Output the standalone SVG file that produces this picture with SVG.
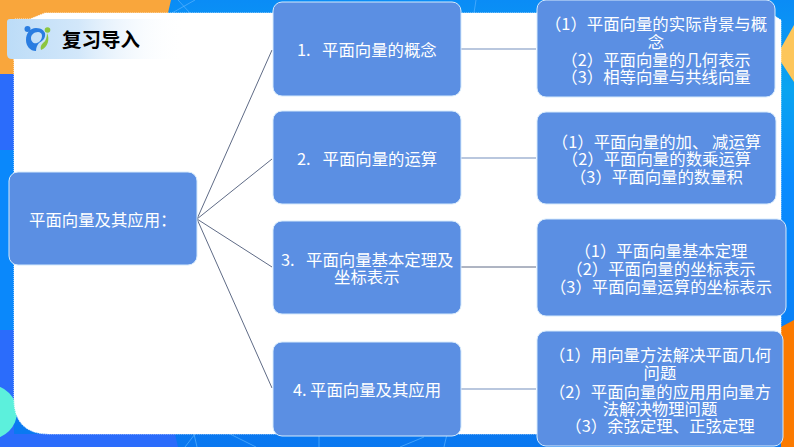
<svg xmlns="http://www.w3.org/2000/svg" width="794" height="447" viewBox="0 0 794 447">
<style>
.n{fill:#5b8fe3;stroke:#d6eafc;stroke-width:1}
.t{font-family:"Noto Sans CJK SC","Liberation Sans",sans-serif;font-size:16.4px;fill:#fff}
.m{text-anchor:middle}
.l1{stroke:#5f6b86;stroke-width:1;fill:none}
.l2{stroke:#a3b5d3;stroke-width:1.3;fill:none}
.d{stroke:#5ab4ff;stroke-width:1;fill:none;opacity:.7}
</style>
<defs>
<linearGradient id="r" x1="0" y1="0" x2="0" y2="1">
<stop offset="0" stop-color="#0a8cf6"/><stop offset=".2" stop-color="#0aa4f0"/><stop offset=".4" stop-color="#0a8cff"/><stop offset="1" stop-color="#0a78f0"/>
</linearGradient>
<linearGradient id="h" x1="0" y1="0" x2="1" y2="0">
<stop offset="0" stop-color="#bcdcf7"/><stop offset=".4" stop-color="#d2e7fa"/><stop offset="1" stop-color="#fff" stop-opacity="0"/>
</linearGradient>
</defs>
<g id="background">
<rect width="794" height="447" fill="url(#r)"/>
<rect x="0" y="74" width="14" height="76" fill="#2b6cfb"/>
<rect x="0" y="150" width="14" height="180" fill="#0a88fb"/>
<path d="M0 330H14V434H175L178 447H0Z" fill="#2b6cfb"/>
<path d="M0 0H171L168 13V74H0Z" fill="#f9a63c"/>
<circle cx="-10" cy="412" r="27" fill="#5cf0dc"/>
<path d="M794 25L781 48V62L794 82Z" fill="#fdc65b"/>
<path d="M794 320L781 327V447H794Z" fill="#fb7a00"/>
<path class="d" d="M172 13L195 0M178 0L190 13M476 0L474 13M185 447L195 434M197 447L194 434M230 434L256 447M319 434V447M400 447L424 437M444 447L447 434"/>
<path d="M14 60V399Q14 434 49 434H781V20L770 13H45L30 19H14Z" fill="#fff" stroke="#fff" stroke-dasharray="1 1"/>
</g>
<g id="header">
<path d="M7 22Q7 19 10 19H185V59H12Q7 59 7 54Z" fill="url(#h)"/>
<circle cx="27.500" cy="29" r="3" fill="#2a7de1"/>
<circle cx="47.500" cy="30" r="2.800" fill="#8cc63f"/>
<path fill-rule="evenodd" d="M36 28C42 28 44 31 45 33C46 39 42 41 39 43C37 45 36 48 36 51C30 51 26 46 26 40C26 33 30 28 36 28ZM38 32C34 32 31 35 31 38C31 42 34 44 37 43C40 42 42 39 42 36C42 33 40 32 38 32Z" fill="#2a7de1"/>
<path d="M47 33C50 39 48 47 41 50C40 47 41 45 43 43C46 41 47 37 47 33Z" fill="#8cc63f"/>
<text x="62" y="46.500" style="font-family:'Noto Sans CJK SC',sans-serif;font-size:19.500px;font-weight:700;fill:#000">复习导入</text>
</g>
<g id="connectors">
<path class="l1" d="M197 219L272 50M197 219L272 159M197 219L272 267M197 219L272 388"/>
<path class="l2" d="M461 49H536M461 158H536M461 389H536"/>
<path class="l1" d="M461 267H536"/>
</g>
<g id="root"><rect class="n" x="9" y="172" width="188" height="93" rx="9"/>
<text class="t" x="29" y="226">平面向量及其应用：</text></g>
<g id="node1"><rect class="n" x="273" y="2" width="188" height="94" rx="9"/>
<text class="t" x="297" y="56">1.<tspan x="322">平面向量的概念</tspan></text></g>
<g id="node2"><rect class="n" x="273" y="111" width="188" height="93" rx="9"/>
<text class="t" x="297" y="165">2.<tspan x="322.500">平面向量的运算</tspan></text></g>
<g id="node3"><rect class="n" x="273" y="221" width="188" height="93" rx="9"/>
<text class="t" x="281" y="265.500">3.<tspan x="306">平面向量基本定理及</tspan><tspan x="334" dy="17.500">坐标表示</tspan></text></g>
<g id="node4"><rect class="n" x="273" y="342" width="188" height="94" rx="9"/>
<text class="t" x="293" y="396">4.<tspan x="310">平面向量及其应用</tspan></text></g>
<g id="detail1"><rect class="n" x="537" y="0" width="238" height="97" rx="9"/>
<text class="t m" y="30"><tspan x="656">（1）平面向量的实际背景与概</tspan><tspan x="656" dy="18">念</tspan><tspan x="656" dy="17.500">（2）平面向量的几何表示</tspan><tspan x="656" dy="17.500">（3）相等向量与共线向量</tspan></text></g>
<g id="detail2"><rect class="n" x="537" y="112" width="239" height="92" rx="9"/>
<text class="t m" y="147.500"><tspan x="656.500">（1）平面向量的加、 减运算</tspan><tspan x="656.500" dy="17.500">（2）平面向量的数乘运算</tspan><tspan x="656.500" dy="17.500">（3）平面向量的数量积</tspan></text></g>
<g id="detail3"><rect class="n" x="537" y="219" width="249" height="97" rx="9"/>
<text class="t m" y="256.500"><tspan x="661">（1）平面向量基本定理</tspan><tspan x="661" dy="18.500">（2）平面向量的坐标表示</tspan><tspan x="661" dy="18">（3）平面向量运算的坐标表示</tspan></text></g>
<g id="detail4"><rect class="n" x="537" y="331" width="246" height="115" rx="9"/>
<text class="t m" y="361"><tspan x="660">（1）用向量方法解决平面几何</tspan><tspan x="660" dy="18">问题</tspan><tspan x="660" dy="18.500">（2）平面向量的应用用向量方</tspan><tspan x="660" dy="17">法解决物理问题</tspan><tspan x="660" dy="17.500">（3）余弦定理、正弦定理</tspan></text></g>
</svg>
